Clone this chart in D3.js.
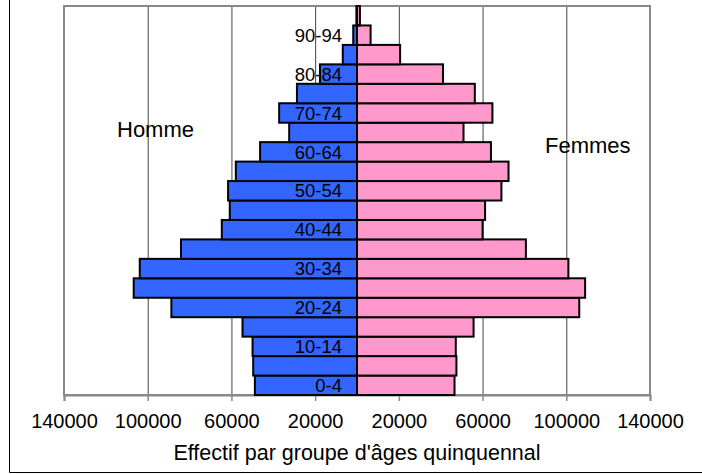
<!DOCTYPE html>
<html>
<head>
<meta charset="utf-8">
<script src="https://cdn.jsdelivr.net/npm/d3@7"></script>
<style>
  body { margin: 0; background: #fff; }
  text { font-family: "Liberation Sans", Arial, sans-serif; fill: #000; }
</style>
</head>
<body>
<div id="chart"></div>
<script>
// Data

// age groups, bottom to top
var ages = ["0-4", "5-9", "10-14", "15-19", "20-24", "25-29", "30-34", "35-39",
  "40-44", "45-49", "50-54", "55-59", "60-64", "65-69", "70-74", "75-79",
  "80-84", "85-89", "90-94", "95+"];

var hommes = [48800, 49600, 49900, 54700, 88700, 106700, 103800, 84100,
  64600, 60800, 61600, 57900, 46300, 32400, 37200, 28700,
  17700, 6800, 1800, 300];

var femmes = [46600, 47500, 47200, 55700, 106200, 109000, 101000, 80700,
  60000, 61200, 69000, 72400, 64000, 50900, 64700, 56300,
  41100, 20600, 6500, 1400];

var tickVals = [-140000, -100000, -60000, -20000, 20000, 60000, 100000, 140000];

// Setup
var width = 702;
var height = 474;

var plot = { left: 64, right: 650, top: 6, bottom: 395 };

var svg = d3
  .select("#chart")
  .append("svg")
  .attr("width", width)
  .attr("height", height);

// outer frame (left + bottom visible)
svg.append("path")
  .attr("d", "M9.5,0 V472.5 H702")
  .attr("fill", "none")
  .attr("stroke", "#000")
  .attr("stroke-width", 1);

var x = d3.scaleLinear()
  .domain([-140000, 140000])
  .range([plot.left, plot.right]);

var y = d3.scaleBand()
  .domain(ages.slice().reverse())
  .range([plot.top, plot.bottom])
  .padding(0);

// gridlines
svg.append("g")
  .selectAll("line")
  .data(tickVals.slice(1, -1))
  .enter()
  .append("line")
  .attr("x1", d => x(d) + 0.5)
  .attr("x2", d => x(d) + 0.5)
  .attr("y1", plot.top)
  .attr("y2", plot.bottom)
  .attr("stroke", "#444")
  .attr("stroke-width", 1);

// plot border
svg.append("rect")
  .attr("x", plot.left)
  .attr("y", plot.top)
  .attr("width", plot.right - plot.left)
  .attr("height", plot.bottom - plot.top)
  .attr("fill", "none")
  .attr("stroke", "#888")
  .attr("stroke-width", 2);

// x axis
var xAxis = d3.axisBottom(x)
  .tickValues(tickVals)
  .tickSize(6)
  .tickPadding(13)
  .tickFormat(d => Math.abs(d));

var gx = svg.append("g")
  .attr("transform", "translate(0," + plot.bottom + ")")
  .call(xAxis);

gx.select(".domain").attr("stroke", "#888").attr("stroke-width", 2);
gx.selectAll(".tick line").attr("stroke", "#888").attr("stroke-width", 1.5);
gx.selectAll(".tick text")
  .attr("font-size", 20)
  .attr("font-family", "Liberation Sans, Arial, sans-serif")
  .attr("fill", "#000");

// bars
var bars = svg.append("g");

bars.selectAll(".homme")
  .data(ages)
  .enter()
  .append("rect")
  .attr("class", "homme")
  .attr("x", (d, i) => x(-hommes[i]))
  .attr("y", d => y(d))
  .attr("width", (d, i) => x(0) - x(-hommes[i]))
  .attr("height", y.bandwidth())
  .attr("fill", "#3366ff")
  .attr("stroke", "#000")
  .attr("stroke-width", 2);

bars.selectAll(".femme")
  .data(ages)
  .enter()
  .append("rect")
  .attr("class", "femme")
  .attr("x", x(0))
  .attr("y", d => y(d))
  .attr("width", (d, i) => x(femmes[i]) - x(0))
  .attr("height", y.bandwidth())
  .attr("fill", "#ff99cc")
  .attr("stroke", "#000")
  .attr("stroke-width", 2);

// age labels (every other group)
svg.append("g")
  .selectAll("text")
  .data(ages.filter((d, i) => i % 2 == 0))
  .enter()
  .append("text")
  .attr("x", x(0) - 15)
  .attr("y", d => y(d) + y.bandwidth() / 2)
  .attr("dy", "0.36em")
  .attr("text-anchor", "end")
  .attr("font-size", 18.5)
  .text(d => d);

// series labels
svg.append("text")
  .attr("x", 117)
  .attr("y", 137)
  .attr("font-size", 22)
  .text("Homme");

svg.append("text")
  .attr("x", 545)
  .attr("y", 153)
  .attr("font-size", 22)
  .text("Femmes");

// axis title
svg.append("text")
  .attr("x", x(0))
  .attr("y", 460)
  .attr("text-anchor", "middle")
  .attr("font-size", 21.5)
  .text("Effectif par groupe d'âges quinquennal");
</script>
</body>
</html>
